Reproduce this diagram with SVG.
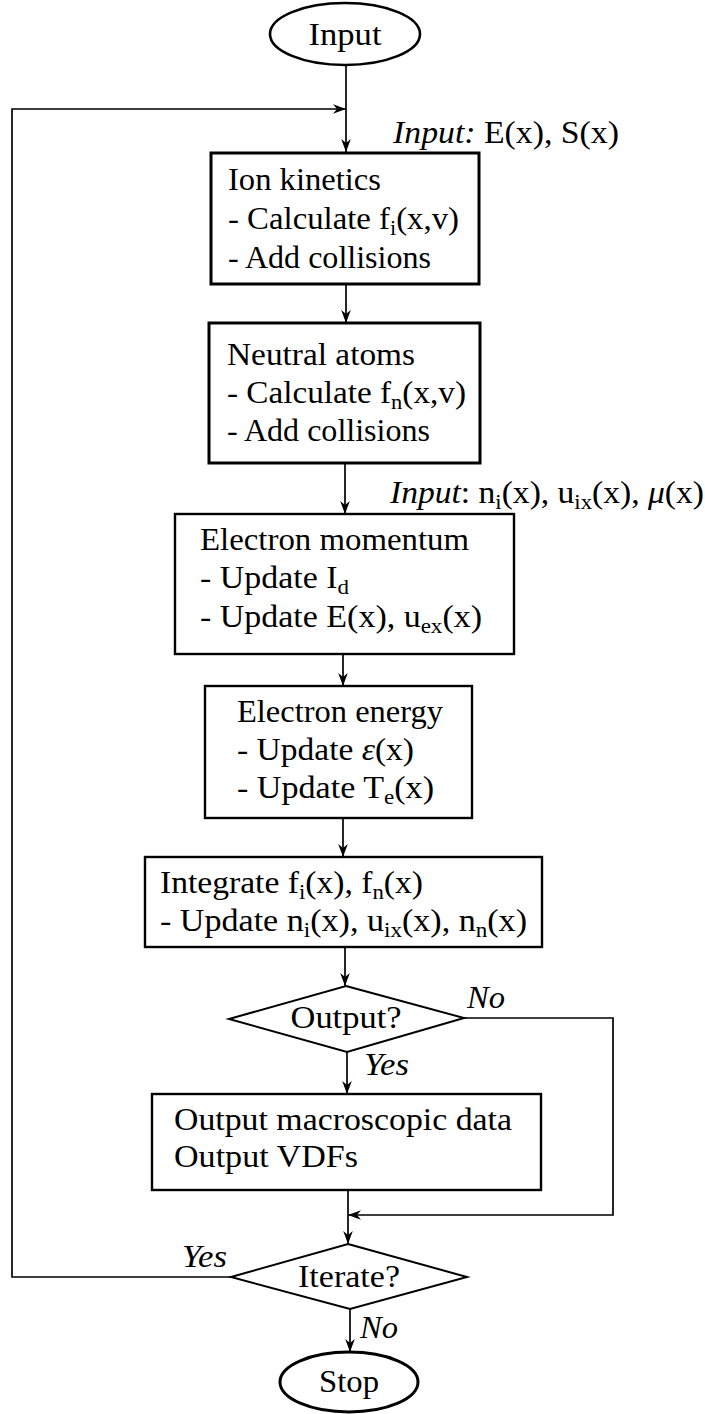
<svg xmlns="http://www.w3.org/2000/svg" width="705" height="1414" viewBox="0 0 705 1414" font-family="'Liberation Serif', 'DejaVu Serif', serif">
<defs>
<marker id="arr" viewBox="-14 -6 15 12" refX="0" refY="0" markerWidth="15" markerHeight="12" markerUnits="userSpaceOnUse" orient="auto">
<path d="M0,0 L-13,-4.8 L-9,0 L-13,4.8 Z" fill="#000"/>
</marker>
</defs>
<style>
text{font-family:'Liberation Serif','DejaVu Serif',serif;font-size:31px;fill:#000}
.it{font-style:italic}
.sub{font-size:21px}
.box{fill:#fff;stroke:#000;stroke-width:2.4}
.tbox{fill:#fff;stroke:#000;stroke-width:3}
.dia{fill:#fff;stroke:#000;stroke-width:2}
.ell{fill:#fff;stroke:#000;stroke-width:2.6}
.con{fill:none;stroke:#000;stroke-width:1.7}
.c{text-anchor:middle}
</style>
<g id="connectors">
<path class="con" d="M346,65 V152" marker-end="url(#arr)"/>
<path class="con" d="M231,1277 H12 V109 H346" marker-end="url(#arr)"/>
<path class="con" d="M346,284 V323" marker-end="url(#arr)"/>
<path class="con" d="M345,463 V514" marker-end="url(#arr)"/>
<path class="con" d="M343,654 V686" marker-end="url(#arr)"/>
<path class="con" d="M343,818 V857" marker-end="url(#arr)"/>
<path class="con" d="M345,947 V986" marker-end="url(#arr)"/>
<path class="con" d="M347,1052 V1094" marker-end="url(#arr)"/>
<path class="con" d="M464,1018 H613 V1215 H348" marker-end="url(#arr)"/>
<path class="con" d="M348,1190 V1244" marker-end="url(#arr)"/>
<path class="con" d="M350,1309 V1352" marker-end="url(#arr)"/>
</g>
<g id="labels">
<text x="393" y="143" textLength="226" lengthAdjust="spacingAndGlyphs"><tspan class="it">Input:</tspan> E(x), S(x)</text>
<text x="390" y="503" textLength="314" lengthAdjust="spacingAndGlyphs"><tspan class="it">Input</tspan>: n<tspan class="sub" dy="6">i</tspan><tspan dy="-6">(x), u</tspan><tspan class="sub" dy="6">ix</tspan><tspan dy="-6">(x), </tspan><tspan class="it">μ</tspan>(x)</text>
<text class="it" x="467" y="1008" textLength="38" lengthAdjust="spacingAndGlyphs">No</text>
<text class="it" x="364" y="1075" textLength="45" lengthAdjust="spacingAndGlyphs">Yes</text>
<text class="it" x="182" y="1267" textLength="45" lengthAdjust="spacingAndGlyphs">Yes</text>
<text class="it" x="360" y="1338" textLength="38" lengthAdjust="spacingAndGlyphs">No</text>
</g>
<g id="input">
<ellipse class="ell" cx="345" cy="34" rx="75" ry="31"/>
<text class="c" x="345" y="45" textLength="73" lengthAdjust="spacingAndGlyphs">Input</text>
</g>
<g id="ion-kinetics">
<rect class="tbox" x="211" y="153" width="268" height="131"/>
<text x="228" y="190" textLength="153" lengthAdjust="spacingAndGlyphs">Ion kinetics</text>
<text x="228" y="229" textLength="231" lengthAdjust="spacingAndGlyphs">- Calculate f<tspan class="sub" dy="6">i</tspan><tspan dy="-6">(x,v)</tspan></text>
<text x="228" y="268" textLength="203" lengthAdjust="spacingAndGlyphs">- Add collisions</text>
</g>
<g id="neutral-atoms">
<rect class="tbox" x="209" y="323" width="271" height="140"/>
<text x="227" y="365" textLength="188" lengthAdjust="spacingAndGlyphs">Neutral atoms</text>
<text x="227" y="403" textLength="239" lengthAdjust="spacingAndGlyphs">- Calculate f<tspan class="sub" dy="6">n</tspan><tspan dy="-6">(x,v)</tspan></text>
<text x="227" y="441" textLength="203" lengthAdjust="spacingAndGlyphs">- Add collisions</text>
</g>
<g id="electron-momentum">
<rect class="box" x="175" y="514" width="339" height="140"/>
<text x="200" y="550" textLength="269" lengthAdjust="spacingAndGlyphs">Electron momentum</text>
<text x="200" y="588" textLength="149" lengthAdjust="spacingAndGlyphs">- Update I<tspan class="sub" dy="6">d</tspan></text>
<text x="200" y="627" textLength="282" lengthAdjust="spacingAndGlyphs">- Update E(x), u<tspan class="sub" dy="6">ex</tspan><tspan dy="-6">(x)</tspan></text>
</g>
<g id="electron-energy">
<rect class="box" x="205" y="686" width="267" height="132"/>
<text x="237" y="722" textLength="206" lengthAdjust="spacingAndGlyphs">Electron energy</text>
<text x="237" y="760" textLength="177" lengthAdjust="spacingAndGlyphs">- Update <tspan class="it">ε</tspan>(x)</text>
<text x="237" y="798" textLength="197" lengthAdjust="spacingAndGlyphs">- Update T<tspan class="sub" dy="6">e</tspan><tspan dy="-6">(x)</tspan></text>
</g>
<g id="integrate">
<rect class="box" x="145" y="857" width="397" height="90"/>
<text x="160" y="893" textLength="263" lengthAdjust="spacingAndGlyphs">Integrate f<tspan class="sub" dy="6">i</tspan><tspan dy="-6">(x), f</tspan><tspan class="sub" dy="6">n</tspan><tspan dy="-6">(x)</tspan></text>
<text x="160" y="931" textLength="367" lengthAdjust="spacingAndGlyphs">- Update n<tspan class="sub" dy="6">i</tspan><tspan dy="-6">(x), u</tspan><tspan class="sub" dy="6">ix</tspan><tspan dy="-6">(x), n</tspan><tspan class="sub" dy="6">n</tspan><tspan dy="-6">(x)</tspan></text>
</g>
<g id="output-decision">
<path class="dia" d="M346,986 L464,1018 L347,1052 L229,1019 Z"/>
<text class="c" x="346" y="1028" textLength="111" lengthAdjust="spacingAndGlyphs">Output?</text>
</g>
<g id="output-data">
<rect class="box" x="152" y="1094" width="389" height="96"/>
<text x="174" y="1130" textLength="338" lengthAdjust="spacingAndGlyphs">Output macroscopic data</text>
<text x="174" y="1167" textLength="184" lengthAdjust="spacingAndGlyphs">Output VDFs</text>
</g>
<g id="iterate-decision">
<path class="dia" d="M348,1244 L467,1277 L350,1309 L231,1277 Z"/>
<text class="c" x="349" y="1287" textLength="102" lengthAdjust="spacingAndGlyphs">Iterate?</text>
</g>
<g id="stop">
<ellipse class="ell" cx="349" cy="1382" rx="69" ry="30" style="stroke-width:3"/>
<text class="c" x="349" y="1392" textLength="60" lengthAdjust="spacingAndGlyphs">Stop</text>
</g>
</svg>
